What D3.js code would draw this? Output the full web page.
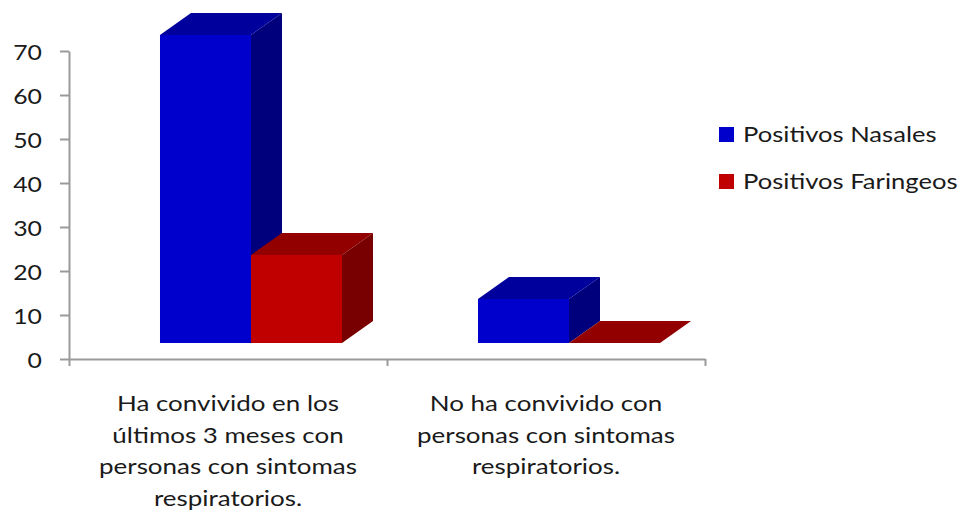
<!DOCTYPE html>
<html>
<head>
<meta charset="utf-8">
<script src="https://cdn.jsdelivr.net/npm/d3@7"></script>
<style>
  body { margin: 0; background: #fff; }
  text { font-family: Lato, "Open Sans", sans-serif; fill: #1a1a1a; }
</style>
</head>
<body>
<script>
const categories = [
    "Ha convivido en los últimos 3 meses con personas con sintomas respiratorios.",
    "No ha convivido con personas con sintomas respiratorios."
];
const categoryLines = [
    ["Ha convivido en los", "últimos 3 meses con", "personas con sintomas", "respiratorios."],
    ["No ha convivido con", "personas con sintomas", "respiratorios."]
];
const seriesNames = ["Positivos Nasales", "Positivos Faringeos"];
const nasales = [70, 10];
const faringeos = [20, 0];
const yTicks = [0, 10, 20, 30, 40, 50, 60, 70];

const series = [nasales, faringeos];
const shades = [
    { front: '#0000cc', top: '#00009c', side: '#00007c' },
    { front: '#c00000', top: '#920000', side: '#780000' }
];

const SX = 1.18;             // text is drawn a bit wide, like the original
const shift = { x: 23, y: -16 };   // bars sit behind the axis plane
const depth = { x: 31, y: -22 };

const svg = d3.select('body').append('svg')
    .attr('width', 964)
    .attr('height', 513);

const x0 = d3.scaleBand()
    .domain(d3.range(categories.length))
    .range([69, 705]);
const x1 = d3.scaleBand()
    .domain(seriesNames)
    .range([0, x0.bandwidth()])
    .paddingOuter(0.747);
const y = d3.scaleLinear()
    .domain([0, 70])
    .range([359, 51]);

// bars, painted left to right so the nearer faces cover the back ones
const bars = svg.append('g');
categories.forEach((c, i) => {
    seriesNames.forEach((name, j) => {
        const v = series[j][i];
        const x = x0(i) + x1(name) + shift.x;
        const w = x1.bandwidth();
        const yt = y(v) + shift.y;
        const yb = y(0) + shift.y;
        const s = shades[j];
        bars.append('polygon')
            .attr('points', [[x + w, yt], [x + w + depth.x, yt + depth.y],
                [x + w + depth.x, yb + depth.y], [x + w, yb]].join(' '))
            .attr('fill', s.side);
        bars.append('polygon')
            .attr('points', [[x, yt], [x + w, yt], [x + w + depth.x, yt + depth.y],
                [x + depth.x, yt + depth.y]].join(' '))
            .attr('fill', s.top);
        if (v > 0)
            bars.append('rect')
                .attr('x', x).attr('y', yt)
                .attr('width', w).attr('height', yb - yt)
                .attr('fill', s.front);
    });
});

// axes
const yAxis = svg.append('g')
    .attr('transform', 'translate(69,0)')
    .call(d3.axisLeft(y).tickValues(yTicks).tickSize(9).tickSizeOuter(0).tickFormat(''));
const xAxis = svg.append('g')
    .attr('transform', 'translate(0,359)')
    .call(d3.axisBottom(d3.scaleLinear().domain([0, 2]).range([69, 705]))
        .tickValues([0, 1, 2]).tickSize(7).tickSizeOuter(0).tickFormat(''));
svg.selectAll('.domain, .tick line')
    .attr('stroke', '#9a9a9a')
    .attr('stroke-width', 2);

svg.append('g').selectAll('text')
    .data(yTicks)
    .join('text')
    .attr('transform', d => `translate(42,${y(d) + 9}) scale(${SX},1)`)
    .attr('text-anchor', 'end')
    .style('font-size', '21px')
    .text(d => d);

// category labels
categoryLines.forEach((lines, i) => {
    const cx = x0(i) + x0.bandwidth() / 2;
    svg.append('g').selectAll('text')
        .data(lines)
        .join('text')
        .attr('transform', (d, k) => `translate(${cx},${411 + k * 31.5}) scale(${SX},1)`)
        .attr('text-anchor', 'middle')
        .style('font-size', '22px')
        .text(d => d);
});

// legend
const legend = svg.append('g')
    .selectAll('g')
    .data(seriesNames)
    .join('g')
    .attr('transform', (d, i) => `translate(719,${127 + i * 47})`);
legend.append('rect')
    .attr('width', 15).attr('height', 15)
    .attr('fill', (d, i) => shades[i].front);
legend.append('text')
    .attr('transform', 'translate(24,14.5) scale(1.22,1)')
    .style('font-size', '21px')
    .text(d => d);
</script>
</body>
</html>
